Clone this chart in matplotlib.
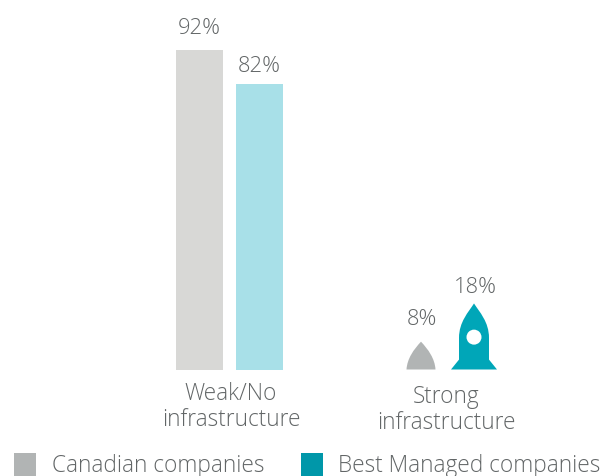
import matplotlib
matplotlib.use("Agg")
import matplotlib.pyplot as plt
from matplotlib.patches import PathPatch, Rectangle, Ellipse
from matplotlib.path import Path

categories = ["Weak/No\ninfrastructure", "Strong\ninfrastructure"]
series_names = ["Canadian companies", "Best Managed companies"]
canadian = [92, 8]
best_managed = [82, 18]

W, H = 613, 477
BASE_PX = 370.5
PX_PER_PCT = 3.478
FS = 16.3
plt.rcParams["font.family"] = ["Open Sans", "DejaVu Sans"]
TXT = "#626667"
GREY, TEAL, LEG_TEAL = "#b1b4b4", "#00a6b8", "#0097a9"
LGREY, LTEAL = "#d8d8d6", "#a8e0e8"

fig = plt.figure(figsize=(W / 100, H / 100), dpi=100)
ax = fig.add_axes([0, 0, 1, 1])
ax.set_xlim(0, W)
ax.set_ylim(-(H - BASE_PX) / PX_PER_PCT, BASE_PX / PX_PER_PCT)
ax.axis("off")


def label(x, v, gap):
    ax.text(x, v + gap / PX_PER_PCT, f"{v}%", ha="center", va="baseline",
            fontsize=15.8, color=TXT, fontweight="light")


# first group: plain bars
ax.bar(199.5, canadian[0], width=47, color=LGREY)
ax.bar(259.5, best_managed[0], width=47, color=LTEAL)
label(199.5, canadian[0], 16.5)
label(259.5, best_managed[0], 13.5)


# second group: rockets, scaled from the value
def rocket(cx, v, color):
    top = v * 1.055
    w = 46
    def P(u, t):
        return (cx + u * w, t * top)
    verts = [P(0, 1), P(.12, .87), P(.326, .72), P(.326, .48),
             P(.326, .15), P(.5, 0), P(-.5, 0), P(-.326, .15),
             P(-.326, .48), P(-.326, .72), P(-.12, .87), P(0, 1), P(0, 1)]
    codes = [Path.MOVETO, Path.CURVE4, Path.CURVE4, Path.CURVE4,
             Path.LINETO, Path.LINETO, Path.LINETO, Path.LINETO,
             Path.LINETO, Path.CURVE4, Path.CURVE4, Path.CURVE4, Path.CLOSEPOLY]
    ax.add_patch(PathPatch(Path(verts, codes), fc=color, ec="none"))
    ax.add_patch(Ellipse((cx, .49 * top), 15, 15 / PX_PER_PCT, fc="white", ec="none"))


def nose(cx, v, color):
    hw = 14.5
    verts = [(cx, v), (cx + hw * .5, v * .72), (cx + hw * .95, v * .4), (cx + hw, 0),
             (cx - hw, 0), (cx - hw * .95, v * .4), (cx - hw * .5, v * .72), (cx, v), (cx, v)]
    codes = [Path.MOVETO, Path.CURVE4, Path.CURVE4, Path.CURVE4, Path.LINETO,
             Path.CURVE4, Path.CURVE4, Path.CURVE4, Path.CLOSEPOLY]
    ax.add_patch(PathPatch(Path(verts, codes), fc=color, ec="none"))


nose(421, canadian[1], GREY)
rocket(474, best_managed[1], TEAL)
label(421.5, canadian[1], 18)
label(475, best_managed[1], 15)

# category labels
for x, cat, yp in zip([231, 446], categories, [382, 385]):
    ax.text(x, (BASE_PX - yp) / PX_PER_PCT, cat, ha="center", va="top", fontsize=FS,
            color=TXT, fontweight="light", linespacing=1.1)

# legend
LEG_CY = (BASE_PX - 465.5) / PX_PER_PCT
LEG_BASE = (BASE_PX - 472.4) / PX_PER_PCT
sq = 22.5
for x, tx, name, c in zip([13.5, 300.5], [52, 338], series_names, [GREY, LEG_TEAL]):
    ax.add_patch(Rectangle((x, LEG_CY - sq / 2 / PX_PER_PCT), sq, sq / PX_PER_PCT, fc=c, ec="none"))
    ax.text(tx, LEG_BASE, name, ha="left", va="baseline", fontsize=FS, color=TXT,
            fontweight="light")

fig.savefig("out.png", dpi=100)
